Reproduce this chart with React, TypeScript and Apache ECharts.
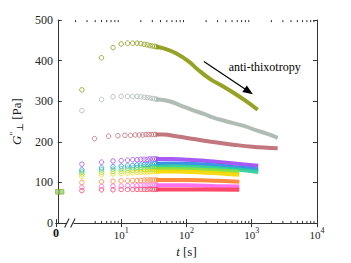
import React, { useEffect, useRef } from 'react';
import * as echarts from 'echarts';

const FONT = '"Liberation Serif", "DejaVu Serif", serif';

// sparse (individually visible) samples, t in s
const tSparse = [2.5, 5, 7.5, 10, 12.5, 15, 17.5, 20, 22.5, 25, 27.5, 30, 32.5, 35];
const tRose = [3.9, 6.4, 8.9, 11.4, 13.9, 16.4, 18.9, 21.4, 23.9, 26.4, 28.9, 31.4, 33.9];

const oliveSparse = [328, 407, 432, 441, 443, 443, 443, 442, 440, 439, 437, 436, 435, 434];
const greySparse = [277, 304, 311, 312, 312, 312, 312, 311, 310, 309, 308, 307, 306, 305];
const roseSparse = [208, 214, 215, 216, 216, 217, 217, 217, 218, 218, 218, 218, 218];
const purpleSparse = [145, 150, 153, 154, 155, 156, 156, 157, 157, 157, 158, 158, 158, 158];
const blueSparse = [131, 136, 139, 140, 141, 142, 143, 143, 144, 144, 145, 145, 146, 146];
const tealSparse = [126, 131, 133, 134, 135, 136, 137, 137, 138, 138, 138, 139, 139, 139];
const ygreenSparse = [121, 125, 127, 128, 129, 130, 131, 131, 132, 132, 132, 133, 133, 133];
const yellowSparse = [115, 119, 121, 122, 123, 124, 125, 125, 126, 126, 126, 127, 127, 127];
const orangeSparse = [100, 102, 103, 104, 104, 105, 105, 105, 106, 106, 106, 106, 106, 106];
const pinkSparse = [88, 90, 91, 91, 92, 92, 92, 93, 93, 93, 93, 93, 93, 93];
const redSparse = [80, 82, 82, 83, 83, 83, 83, 83, 83, 83, 84, 83, 83, 83];

// dense (overlapping) part, read along the band
const oliveDenseT = [34, 45, 69, 108, 152, 238, 335, 588, 820, 1235];
const oliveDense = [434, 430, 418, 398, 377, 353, 340, 316, 300, 279];
const greyDenseT = [34, 55, 80, 121, 190, 266, 380, 520, 800, 1150, 1700, 2500];
const greyDense = [305, 300, 290, 279, 268, 259, 252, 246, 238, 229, 220, 210];
const roseDenseT = [34, 45, 69, 108, 200, 335, 520, 1030, 2500];
const roseDense = [218, 218, 214, 209, 202, 197, 193, 188, 184];
const purpleDenseT = [34, 60, 108, 200, 335, 600, 1260];
const purpleDense = [158, 158, 156, 153, 150, 146, 141];
const blueDenseT = [34, 60, 108, 200, 335, 600, 1260];
const blueDense = [146, 147, 146, 144, 141, 137, 132];
const tealDenseT = [34, 60, 200, 600, 1260];
const tealDense = [139, 140, 137, 132, 126];
const ygreenDenseT = [34, 60, 200, 645];
const ygreenDense = [133, 133, 131, 126];
const yellowDenseT = [34, 60, 200, 645];
const yellowDense = [127, 127, 124, 119];
const orangeDenseT = [34, 100, 300, 645];
const orangeDense = [106, 106, 104, 102];
const pinkDenseT = [34, 100, 300, 645];
const pinkDense = [93, 93, 91, 90];
const redDenseT = [34, 100, 645];
const redDense = [83, 83, 82];

// pre-shear samples at t = 0
const zeroIdx = [0, 1];
const zeroVals = [77, 77];

// x tick labels indexed by decade
const xTickBase = ['0', '10', '10', '10', '10'];
const xTickSup = ['', '1', '2', '3', '4'];

const SERIES = [
  { name: 'olive', color: '#8c9a14', ts: tSparse, vs: oliveSparse, td: oliveDenseT, vd: oliveDense },
  { name: 'grey', color: '#a9b6ae', ts: tSparse, vs: greySparse, td: greyDenseT, vd: greyDense },
  { name: 'rose', color: '#bd6a72', ts: tRose, vs: roseSparse, td: roseDenseT, vd: roseDense },
  { name: 'purple', color: '#a04cf4', ts: tSparse, vs: purpleSparse, td: purpleDenseT, vd: purpleDense },
  { name: 'blue', color: '#2e8ae6', ts: tSparse, vs: blueSparse, td: blueDenseT, vd: blueDense },
  { name: 'teal', color: '#2ccf9a', ts: tSparse, vs: tealSparse, td: tealDenseT, vd: tealDense },
  { name: 'ygreen', color: '#86e03a', ts: tSparse, vs: ygreenSparse, td: ygreenDenseT, vd: ygreenDense },
  { name: 'yellow', color: '#f4d800', ts: tSparse, vs: yellowSparse, td: yellowDenseT, vd: yellowDense },
  { name: 'orange', color: '#ff8030', ts: tSparse, vs: orangeSparse, td: orangeDenseT, vd: orangeDense },
  { name: 'pink', color: '#ff66ee', ts: tSparse, vs: pinkSparse, td: pinkDenseT, vd: pinkDense },
  { name: 'red', color: '#ff3a5a', ts: tSparse, vs: redSparse, td: redDenseT, vd: redDense },
];

const arrowFrom = [185, 398];
const arrowTo = [900, 324];
const noteAt = [1580, 385];

export default function App() {
  const ref = useRef<HTMLDivElement>(null);
  useEffect(() => {
    document.body.style.margin = '0';
    const chart = echarts.init(ref.current!, null, { renderer: 'svg' });
    const series: any[] = [];
    SERIES.forEach((s) => {
      series.push({
        type: 'scatter',
        name: s.name,
        xAxisIndex: 0,
        yAxisIndex: 0,
        data: s.ts.map((t, i) => [t, s.vs[i]]),
        symbol: 'circle',
        symbolSize: 4.5,
        itemStyle: { color: 'rgba(0,0,0,0)', borderColor: s.color, borderWidth: 1 },
        silent: true,
      });
      series.push({
        type: 'line',
        name: s.name + '-dense',
        xAxisIndex: 0,
        yAxisIndex: 0,
        data: s.td.map((t, i) => [t, s.vd[i]]),
        showSymbol: false,
        smooth: 0.4,
        lineStyle: { color: s.color, width: 4, cap: 'butt', opacity: 0.92 },
        silent: true,
      });
    });
    series.push({
      type: 'scatter',
      name: 'zero',
      xAxisIndex: 2,
      yAxisIndex: 0,
      data: zeroIdx.map((x, i) => [x, zeroVals[i]]),
      symbol: 'rect',
      symbolSize: 4.5,
      itemStyle: { color: '#8fd88a', borderColor: '#8c9a14', borderWidth: 0.8 },
      silent: true,
      clip: false,
    });
    series.push({
      type: 'line',
      name: 'note',
      xAxisIndex: 0,
      yAxisIndex: 0,
      data: [],
      silent: true,
      markLine: {
        silent: true,
        animation: false,
        symbol: ['none', 'triangle'],
        symbolSize: [8, 10],
        label: { show: false },
        lineStyle: { color: '#000', width: 1.2, type: 'solid' },
        data: [[{ coord: arrowFrom }, { coord: arrowTo }]],
      },
      markPoint: {
        silent: true,
        animation: false,
        symbol: 'circle',
        symbolSize: 1,
        itemStyle: { color: 'rgba(0,0,0,0)' },
        label: {
          show: true,
          position: 'inside',
          formatter: 'anti-thixotropy',
          color: '#000',
          fontFamily: FONT,
          fontSize: 12,
        },
        data: [{ coord: noteAt }],
      },
    });

    const tickLine = { show: true, lineStyle: { color: '#333', width: 1 } };
    const option: any = {
      animation: false,
      backgroundColor: '#fff',
      grid: { left: 45, right: 34, top: 20, bottom: 39 },
      xAxis: [
        {
          type: 'log',
          min: 1,
          max: 10000,
          position: 'bottom',
          axisLine: tickLine,
          axisTick: { show: true, inside: true, length: 4, lineStyle: { color: '#333' } },
          splitLine: { show: false },
          axisLabel: {
            margin: 3,
            color: '#222',
            fontFamily: FONT,
            formatter: (v: number) => {
              const k = Math.round(Math.log10(v));
              if (k === 0) return '{z|' + xTickBase[0] + '}';
              return '{b|' + xTickBase[k] + '}{s|' + xTickSup[k] + '}';
            },
            rich: {
              z: { fontFamily: FONT, fontSize: 12, fontWeight: 'bold', color: '#111', lineHeight: 14 },
              b: { fontFamily: FONT, fontSize: 11, color: '#222', lineHeight: 14, verticalAlign: 'bottom' },
              s: { fontFamily: FONT, fontSize: 8, color: '#222', lineHeight: 14, verticalAlign: 'top' },
            },
          },
          name: '{i|t} [s]',
          nameLocation: 'middle',
          nameGap: 19,
          nameTextStyle: {
            fontFamily: FONT,
            fontSize: 13,
            color: '#222',
            rich: {
              i: { fontFamily: FONT, fontSize: 13, fontStyle: 'italic', color: '#222' },
            },
          },
        },
        {
          type: 'log',
          min: 1,
          max: 10000,
          position: 'top',
          axisLine: tickLine,
          axisTick: { show: true, inside: true, length: 4, lineStyle: { color: '#333' } },
          axisLabel: { show: false },
          splitLine: { show: false },
        },
        {
          type: 'value',
          min: -0.5,
          max: 67.5,
          show: false,
        },
      ],
      yAxis: [
        {
          type: 'value',
          min: 0,
          max: 500,
          interval: 100,
          position: 'left',
          axisLine: tickLine,
          axisTick: { show: true, inside: true, length: 4, lineStyle: { color: '#333' } },
          splitLine: { show: false },
          axisLabel: { margin: 3, color: '#222', fontFamily: FONT, fontSize: 12 },
          name: '{i|G}{sup|″}{sub|⊥} [Pa]',
          nameLocation: 'middle',
          nameGap: 24,
          nameTextStyle: {
            fontFamily: FONT,
            fontSize: 13,
            color: '#222',
            rich: {
              i: { fontFamily: FONT, fontSize: 13, fontStyle: 'italic', color: '#222', lineHeight: 16 },
              sup: { fontFamily: FONT, fontSize: 10, color: '#222', verticalAlign: 'top', lineHeight: 16 },
              sub: { fontFamily: FONT, fontSize: 9, color: '#222', verticalAlign: 'bottom', lineHeight: 16 },
            },
          },
        },
        {
          type: 'value',
          min: 0,
          max: 500,
          interval: 100,
          position: 'right',
          axisLine: tickLine,
          axisTick: { show: true, inside: true, length: 4, lineStyle: { color: '#333' } },
          axisLabel: { show: false },
          splitLine: { show: false },
        },
      ],
      series,
    };
    chart.setOption(option);

    // log minor ticks at 2..9 x 10^d, placed through the axis scale
    const yB = chart.convertToPixel({ yAxisIndex: 0 }, 0) as number;
    const yT = chart.convertToPixel({ yAxisIndex: 0 }, 500) as number;
    const g: any[] = [];
    for (let d = 0; d < 4; d++) {
      for (let k = 2; k <= 9; k++) {
        const v = k * Math.pow(10, d);
        const x = chart.convertToPixel({ xAxisIndex: 0 }, v) as number;
        g.push({ type: 'line', shape: { x1: x, y1: yT, x2: x, y2: yT + 2.2 }, style: { stroke: '#333', lineWidth: 1 }, silent: true });
        if (v >= 4) {
          g.push({ type: 'line', shape: { x1: x, y1: yB, x2: x, y2: yB - 2.2 }, style: { stroke: '#333', lineWidth: 1 }, silent: true });
        }
      }
    }
    // axis break mark
    const xb = chart.convertToPixel({ xAxisIndex: 0 }, 1.65) as number;
    g.push({ type: 'rect', shape: { x: xb - 3, y: yB - 2, width: 6.5, height: 4 }, style: { fill: '#fff' }, silent: true, z: 10 });
    g.push({ type: 'line', shape: { x1: xb - 5.5, y1: yB + 4.5, x2: xb - 1, y2: yB - 4.5 }, style: { stroke: '#222', lineWidth: 1.1 }, silent: true, z: 11 });
    g.push({ type: 'line', shape: { x1: xb + 0.5, y1: yB + 4.5, x2: xb + 5, y2: yB - 4.5 }, style: { stroke: '#222', lineWidth: 1.1 }, silent: true, z: 11 });
    chart.setOption({ graphic: g });

    return () => chart.dispose();
  }, []);
  return <div ref={ref} style={{ width: 351, height: 263 }} />;
}
